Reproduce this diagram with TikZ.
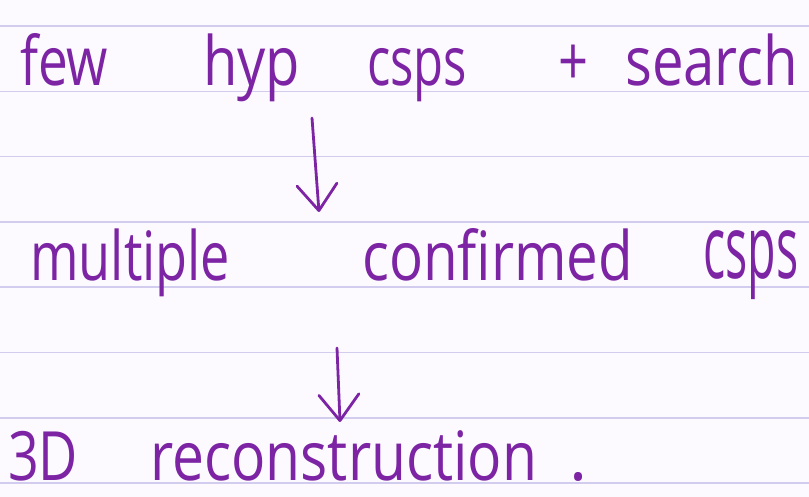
\documentclass[tikz,border=0pt]{standalone}
\usepackage{fontspec}
\setmainfont{Open Sans}
\usepackage{graphicx}
\usepackage{xcolor}
\usetikzlibrary{arrows.meta}

\definecolor{ink}{RGB}{124,36,164}
\definecolor{ruling}{RGB}{210,204,238}
\definecolor{paper}{RGB}{252,250,255}

% squeeze a word to the width it takes on the page
\newcommand{\inkword}[2]{\resizebox{#1}{\height}{#2}}

\tikzset{
  word/.style={anchor=base west, inner sep=0pt, text=ink,
    font=\fontsize{68}{68}\selectfont},
  rule/.style={draw=ruling, line width=1.4pt},
  inkarrow/.style={draw=ink, line width=2.8pt, line cap=round,
    -{Straight Barb[length=26pt,width=40pt,round]}}
}

\begin{document}
\begin{tikzpicture}[x=1pt,y=-1pt]
            \useasboundingbox[fill=paper] (0,0) rectangle (809,497);

            % Ruled lines
            \foreach \k in {0,...,7} {
                \pgfmathsetmacro{\y}{26+65.3*\k}
                \draw[rule] (0,\y) -- (809,\y);
            }

            % First line
            \node[word] (few) at (20,86) {\inkword{88pt}{few}};
            \node[word] (hyp) at (203,86) {\inkword{97pt}{hyp}};
            \node[word] (cspsA) at (367,86) {\inkword{100pt}{csps}};
            \node[word] (plus) at (558,86) {\inkword{30pt}{+}};
            \node[word] (search) at (625,86) {\inkword{173pt}{search}};

            % Second line
            \node[word] (multiple) at (30,281) {\inkword{200pt}{multiple}};
            \node[word] (confirmed) at (362,281) {\inkword{271pt}{confirmed}};
            \node[word, font=\fontsize{88}{88}\selectfont] (cspsB) at (703,279) {\inkword{95pt}{csps}};

            % Third line
            \node[word] (threeD) at (8,480) {\inkword{70pt}{3D}};
            \node[word] (recon) at (150,480) {\inkword{387pt}{reconstruction}\hspace{32pt}.};

            % Arrows
            \coordinate (topA) at (312,118);
            \coordinate (tipA) at (319,212);
            \draw[inkarrow] (topA) -- (tipA);

            \coordinate (topB) at (337,348);
            \coordinate (tipB) at (340,422);
            \draw[inkarrow] (topB) -- (tipB);
        \end{tikzpicture}
\end{document}
